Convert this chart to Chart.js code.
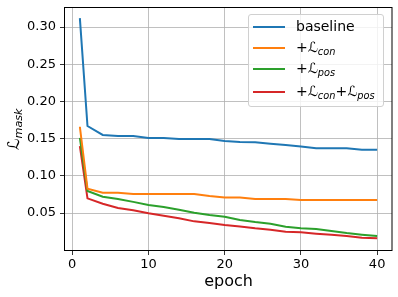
<!DOCTYPE html>
<html><head><meta charset="utf-8">
<script src="https://cdn.jsdelivr.net/npm/chart.js@4/dist/chart.umd.min.js"></script>
<style>
html,body{margin:0;padding:0;background:#fff;}
#wrap{position:relative;width:398px;height:297px;font-family:"DejaVu Sans";}
#ylab{position:absolute;left:0;top:0;font-size:16px;color:#000;white-space:nowrap;transform-origin:0 0;}
#ylab sub, .leg sub{font-style:italic;font-size:70%;vertical-align:baseline;position:relative;top:0.3em;}
#legend{position:absolute;left:248px;top:14px;width:136px;height:93px;background:rgba(255,255,255,0.8);border:1px solid #d0d0d0;border-radius:3px;box-sizing:border-box;}
.leg{position:absolute;left:0;height:0;}
.leg .ln{position:absolute;left:4px;width:32px;height:2px;top:-1px;}
.leg .tx{position:absolute;left:47px;top:-10px;font-size:14px;line-height:18px;white-space:nowrap;color:#000;}
</style></head>
<body>
<div id="wrap">
<canvas id="c" width="398" height="297"></canvas>
<div id="ylab">ℒ<sub>mask</sub></div>
<div id="legend"></div>
</div>
<script>
const epochs = [1,2,4,6,8,10,12,14,16,18,20,22,24,26,28,30,32,34,36,38,40];
const baseline = [0.312,0.167,0.155,0.1535,0.1535,0.151,0.151,0.1495,0.1495,0.1495,0.147,0.1455,0.145,0.143,0.1414,0.1396,0.137,0.137,0.137,0.135,0.135];
const withCon = [0.166,0.0827,0.0773,0.0773,0.0755,0.0755,0.0755,0.0755,0.0755,0.073,0.071,0.071,0.069,0.069,0.069,0.0675,0.0675,0.0675,0.0675,0.0675,0.0675];
const withPos = [0.151,0.0796,0.072,0.069,0.065,0.0608,0.058,0.0545,0.0505,0.0473,0.045,0.0406,0.0379,0.0357,0.0316,0.0294,0.0285,0.0258,0.023,0.0208,0.019];
const withBoth = [0.140,0.0697,0.0625,0.0567,0.0536,0.0496,0.0464,0.0429,0.0388,0.0366,0.0339,0.032,0.0294,0.0276,0.0249,0.024,0.0222,0.0208,0.019,0.0168,0.016];
const seriesNames = ['baseline','+ℒ_con','+ℒ_pos','+ℒ_con+ℒ_pos'];
const seriesColors = ['#1f77b4','#ff7f0e','#2ca02c','#d62728'];
const xTicks = [0,10,20,30,40];
const yTicks = [0.05,0.10,0.15,0.20,0.25,0.30];
const xLabel = 'epoch';

const seriesValues = [baseline, withCon, withPos, withBoth];
const datasets = seriesValues.map((vals,i)=>({
  label: seriesNames[i],
  data: vals.map((v,j)=>({x:epochs[j], y:v})),
  borderColor: seriesColors[i],
  backgroundColor: seriesColors[i],
  borderWidth: 2,
  pointRadius: 0,
  tension: 0,
  fill: false
}));

const FONT = "DejaVu Sans";
const frame = {
  id:'frame',
  afterDraw(chart){
    const a = chart.chartArea, ctx = chart.ctx;
    ctx.save();
    ctx.strokeStyle = '#000';
    ctx.lineWidth = 1;
    ctx.strokeRect(a.left-0.5, a.top+0.5, a.right-a.left+0.5, a.bottom-a.top);
    ctx.restore();
  }
};

const chart = new Chart(document.getElementById('c'), {
  type:'line',
  data:{datasets},
  options:{
    responsive:false,
    animation:false,
    devicePixelRatio:1,
    layout:{padding:{top:7,right:6,left:0,bottom:0}},
    plugins:{legend:{display:false},tooltip:{enabled:false}},
    scales:{
      x:{
        type:'linear', min:-0.95, max:41.95,
        afterBuildTicks:(s)=>{s.ticks = xTicks.map(v=>({value:v}));},
        afterFit:(s)=>{s.height = 47; s.paddingLeft = 0; s.paddingRight = 0;},
        grid:{color:'#b0b0b0', lineWidth:0.8, tickColor:'#000', tickLength:5, drawTicks:true},
        border:{display:false},
        ticks:{color:'#000', font:{family:FONT,size:13}, padding:2, maxRotation:0, callback:(v)=>String(v)},
        title:{display:true, text:xLabel, color:'#000', font:{family:FONT,size:16}, padding:{top:0,bottom:6}}
      },
      y:{
        min:0.0003, max:0.327,
        afterBuildTicks:(s)=>{s.ticks = yTicks.map(v=>({value:v}));},
        afterFit:(s)=>{s.width = 65; s.paddingTop = 0; s.paddingBottom = 0;},
        grid:{color:'#b0b0b0', lineWidth:0.8, tickColor:'#000', tickLength:5, drawTicks:true},
        border:{display:false},
        ticks:{color:'#000', font:{family:FONT,size:13}, padding:4, callback:(v)=>Number(v).toFixed(2)}
      }
    }
  },
  plugins:[frame]
});

// y-axis label (HTML, with subscript)
const yl = document.getElementById('ylab');
const w = yl.offsetWidth;
const a = chart.chartArea;
const cy = (a.top + a.bottom)/2;
yl.style.transform = 'rotate(-90deg)';
yl.style.left = '4px';
yl.style.top = (cy + w/2) + 'px';

// HTML legend
const leg = document.getElementById('legend');
const rowY = [12, 33, 54, 77];
function fmt(s){
  return s.replace(/_([a-z]+)/g, '<sub>$1</sub>');
}
chart.data.datasets.forEach((ds,i)=>{
  const r = document.createElement('div');
  r.className='leg';
  r.style.top = rowY[i]+'px';
  r.innerHTML = '<div class="ln" style="background:'+ds.borderColor+'"></div><div class="tx">'+fmt(ds.label)+'</div>';
  leg.appendChild(r);
});
</script>
</body></html>
